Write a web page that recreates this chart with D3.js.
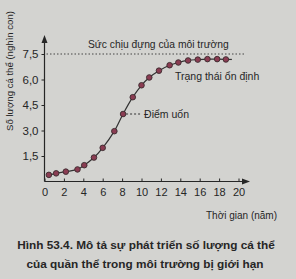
<!DOCTYPE html>
<html><head><meta charset="utf-8">
<script src="https://cdn.jsdelivr.net/npm/d3@7"></script>
<style>body{margin:0;background:#d3d3d0;}svg{display:block;}</style>
</head><body>
<script>
const years = [0.45,1.2,2.2,3.4,4.1,5.1,6.0,7.2,8.1,9.1,10.0,10.8,11.8,12.9,13.8,14.8,15.8,16.8,17.8,18.7];
const population = [0.39,0.48,0.58,0.71,0.96,1.41,1.98,2.96,3.97,4.96,5.66,6.12,6.52,6.84,7.0,7.12,7.17,7.2,7.2,7.18];
const xTicks = [0,2,4,6,8,10,12,14,16,18,20];
const yTicks = [1.5,3.0,4.5,6.0,7.5];
const carryingCapacity = 7.5;
const inflectionIndex = 8;
const labels = {
  yTitle: "Số lượng cá thể (nghìn con)",
  xTitle: "Thời gian (năm)",
  capacity: "Sức chịu đựng của môi trường",
  stable: "Trạng thái ổn định",
  inflection: "Điểm uốn",
  caption1: "Hình 53.4. Mô tả sự phát triển số lượng cá thể",
  caption2: "của quần thể trong môi trường bị giới hạn"
};

const W = 296, H = 279;
const svg = d3.select("body").append("svg").attr("width", W).attr("height", H)
  .style("font-family", "'Liberation Sans', Arial, sans-serif");
svg.append("rect").attr("width", W).attr("height", H).attr("fill", "#d3d3d0");

const x = d3.scaleLinear().domain([0, 20]).range([44.5, 238.5]);
const y = d3.scaleLinear().domain([0, 7.5]).range([181.5, 54]);
const ink = "#262626";

// axes
const xAxis = svg.append("g").attr("transform", `translate(0,${y(0)})`)
  .call(d3.axisBottom(x).tickValues(xTicks).tickSize(-3).tickPadding(7).tickFormat(d3.format("d")));
xAxis.select(".domain").remove();
xAxis.selectAll("line").attr("stroke", ink);
xAxis.selectAll("text").attr("fill", ink).style("font-size", "11px").style("font-family", "'Liberation Sans', Arial, sans-serif");
svg.append("line").attr("x1", x(0)).attr("x2", 244).attr("y1", y(0)).attr("y2", y(0)).attr("stroke", ink).attr("stroke-width", 1.2);
svg.append("path").attr("d", `M250,${y(0)} L242,${y(0)-3} L242,${y(0)+3} Z`).attr("fill", ink);

const fmt = d => d3.format(".1f")(d).replace(".", ",");
const yAxis = svg.append("g").attr("transform", `translate(${x(0)},0)`)
  .call(d3.axisLeft(y).tickValues(yTicks).tickSize(3).tickPadding(3).tickFormat(fmt));
yAxis.select(".domain").remove();
yAxis.selectAll("line").attr("stroke", ink);
yAxis.selectAll("text").attr("fill", ink).style("font-size", "11.5px").style("font-family", "'Liberation Sans', Arial, sans-serif");
svg.append("line").attr("x1", x(0)).attr("x2", x(0)).attr("y1", y(0)).attr("y2", 42).attr("stroke", ink).attr("stroke-width", 1.2);
svg.append("path").attr("d", `M${x(0)},35 L${x(0)-3},43 L${x(0)+3},43 Z`).attr("fill", ink);

// carrying capacity
svg.append("line").attr("x1", x(0) + 2).attr("x2", 246).attr("y1", y(carryingCapacity)).attr("y2", y(carryingCapacity))
  .attr("stroke", "#444").attr("stroke-width", 1).attr("stroke-dasharray", "1.5,2");

// curve
const pts = years.map((d, i) => [d, population[i]]);
svg.append("path").datum(pts)
  .attr("d", d3.line().x(d => x(d[0])).y(d => y(d[1])).curve(d3.curveCatmullRom))
  .attr("fill", "none").attr("stroke", "#333").attr("stroke-width", 1.2);
svg.append("line").attr("x1", x(years[years.length-1])).attr("x2", x(years[years.length-1]) + 6)
  .attr("y1", y(population[population.length-1])).attr("y2", y(population[population.length-1]))
  .attr("stroke", "#333").attr("stroke-width", 1.2);

// inflection leader
const ip = pts[inflectionIndex];
svg.append("line").attr("x1", x(ip[0]) + 3).attr("x2", x(ip[0]) + 19).attr("y1", y(ip[1])).attr("y2", y(ip[1]))
  .attr("stroke", "#333").attr("stroke-width", 1.2).attr("stroke-dasharray", "2,2");

svg.selectAll("circle.pt").data(pts).join("circle").attr("class", "pt")
  .attr("cx", d => x(d[0])).attr("cy", d => y(d[1])).attr("r", 2.8)
  .attr("fill", "#8a3c52").attr("stroke", "#3a2a2e").attr("stroke-width", 0.9);

// texts
const txt = (t, xx, yy, size, opts = {}) => svg.append("text").attr("x", xx).attr("y", yy)
  .attr("fill", ink).style("font-size", size + "px").attr("text-anchor", opts.anchor || "start")
  .style("font-weight", opts.bold ? "bold" : "normal").text(t);

txt(labels.capacity, 88, 48, 10.3);
txt(labels.stable, 175, 80, 10.5);
txt(labels.inflection, x(ip[0]) + 21, y(ip[1]) + 4, 10.5);
txt(labels.xTitle, 277, 219, 10, {anchor: "end"});
txt(labels.caption1, 146, 249, 11.8, {anchor: "middle", bold: true});
txt(labels.caption2, 145, 268, 11.8, {anchor: "middle", bold: true});
svg.append("text").attr("transform", "translate(13,71) rotate(-90)").attr("text-anchor", "middle")
  .attr("fill", ink).style("font-size", "9.6px").text(labels.yTitle);
</script>
</body></html>
